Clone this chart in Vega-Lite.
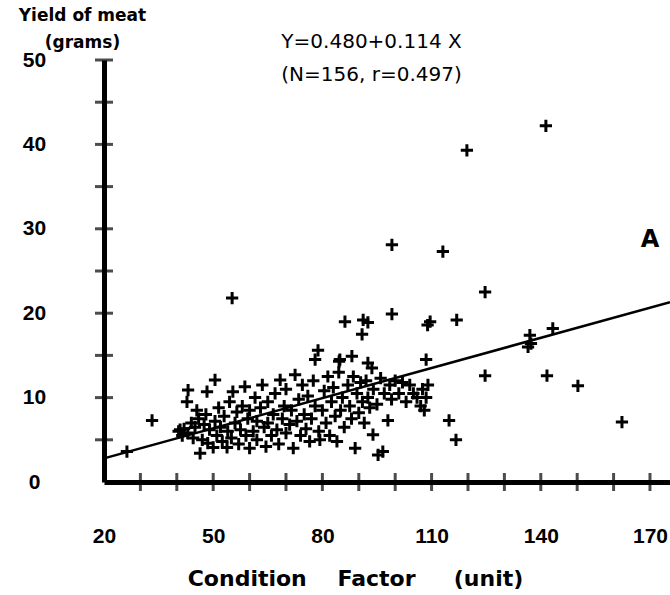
{
  "$schema": "https://vega.github.io/schema/vega-lite/v6.json",
  "width": 566,
  "height": 422,
  "autosize": {"type": "none"},
  "padding": {"left": 104, "top": 60, "right": 0, "bottom": 113},
  "background": "white",
  "config": {"view": {"stroke": null}, "font": "DejaVu Sans"},
  "datasets": {
    "pts": [
      {"x": 141.4, "y": 42.2}, {"x": 119.7, "y": 39.3}, {"x": 99.1, "y": 28.1}, {"x": 113.1, "y": 27.3},
      {"x": 124.7, "y": 22.5}, {"x": 55.2, "y": 21.8}, {"x": 99.1, "y": 19.9}, {"x": 109.6, "y": 19.0},
      {"x": 108.9, "y": 18.6}, {"x": 116.9, "y": 19.2}, {"x": 86.2, "y": 19.0}, {"x": 91.2, "y": 19.2},
      {"x": 92.5, "y": 18.9}, {"x": 90.9, "y": 17.5}, {"x": 137.0, "y": 17.4}, {"x": 143.3, "y": 18.2},
      {"x": 137.3, "y": 16.4}, {"x": 136.5, "y": 16.0}, {"x": 84.6, "y": 14.3}, {"x": 88.1, "y": 14.9},
      {"x": 92.5, "y": 14.1}, {"x": 93.6, "y": 13.5}, {"x": 108.5, "y": 14.5}, {"x": 124.7, "y": 12.6},
      {"x": 141.7, "y": 12.6}, {"x": 150.2, "y": 11.4}, {"x": 162.3, "y": 7.1}, {"x": 114.8, "y": 7.3},
      {"x": 116.7, "y": 5.0}, {"x": 98.0, "y": 7.3}, {"x": 89.0, "y": 4.0}, {"x": 33.2, "y": 7.3},
      {"x": 26.3, "y": 3.6}, {"x": 40.9, "y": 6.2},
      {"x": 40.5, "y": 6.0}, {"x": 41.5, "y": 5.5}, {"x": 42, "y": 6.3}, {"x": 43, "y": 5.8},
      {"x": 43.1, "y": 10.9}, {"x": 42.8, "y": 9.5}, {"x": 44, "y": 7.0}, {"x": 44.5, "y": 5.2},
      {"x": 45, "y": 6.5}, {"x": 45.5, "y": 8.5}, {"x": 46, "y": 7.5}, {"x": 46.4, "y": 3.4},
      {"x": 47, "y": 5.0}, {"x": 47.5, "y": 6.8}, {"x": 48, "y": 8.0}, {"x": 48.3, "y": 10.7},
      {"x": 48.5, "y": 4.6}, {"x": 49, "y": 6.2}, {"x": 50, "y": 4.1}, {"x": 50.5, "y": 12.1},
      {"x": 50.5, "y": 7.2}, {"x": 51, "y": 5.5}, {"x": 51.5, "y": 8.8}, {"x": 52, "y": 6.5},
      {"x": 52.5, "y": 4.8}, {"x": 53, "y": 7.8}, {"x": 53.8, "y": 4.1}, {"x": 54, "y": 6.0},
      {"x": 54.5, "y": 9.5}, {"x": 55.4, "y": 10.7}, {"x": 55, "y": 5.2},
      {"x": 56, "y": 7.0}, {"x": 56.5, "y": 8.3}, {"x": 57, "y": 4.5}, {"x": 57.5, "y": 6.2},
      {"x": 58, "y": 9.0}, {"x": 58.7, "y": 11.3}, {"x": 59, "y": 5.5}, {"x": 59.5, "y": 7.5},
      {"x": 60, "y": 4.0}, {"x": 60, "y": 8.5}, {"x": 61, "y": 6.0}, {"x": 61.5, "y": 10.0},
      {"x": 62, "y": 5.0}, {"x": 62, "y": 7.2}, {"x": 63, "y": 8.8}, {"x": 63.5, "y": 11.5},
      {"x": 64, "y": 6.5}, {"x": 64.5, "y": 4.2}, {"x": 65, "y": 9.5}, {"x": 65, "y": 7.0},
      {"x": 66, "y": 5.5}, {"x": 66.5, "y": 8.0}, {"x": 67, "y": 10.5}, {"x": 67.5, "y": 6.2},
      {"x": 68, "y": 4.5}, {"x": 68.4, "y": 12.1}, {"x": 69, "y": 7.5}, {"x": 69.5, "y": 9.0},
      {"x": 70, "y": 5.8}, {"x": 70, "y": 11.0},
      {"x": 71, "y": 6.8}, {"x": 71.5, "y": 8.5}, {"x": 72, "y": 4.0}, {"x": 72.5, "y": 12.7},
      {"x": 73, "y": 7.2}, {"x": 73.5, "y": 9.8}, {"x": 74, "y": 5.5}, {"x": 74.5, "y": 11.5},
      {"x": 75, "y": 8.0}, {"x": 75.5, "y": 6.3}, {"x": 76, "y": 10.2}, {"x": 76.5, "y": 4.8},
      {"x": 77, "y": 7.5}, {"x": 77.5, "y": 12.0}, {"x": 78, "y": 9.0}, {"x": 78, "y": 14.5},
      {"x": 78.8, "y": 15.6}, {"x": 79, "y": 6.0}, {"x": 79.3, "y": 5.0}, {"x": 80, "y": 8.5},
      {"x": 80.5, "y": 10.8}, {"x": 81, "y": 7.0}, {"x": 81.5, "y": 12.5}, {"x": 82, "y": 5.5},
      {"x": 82.5, "y": 9.5}, {"x": 83, "y": 11.2}, {"x": 83.5, "y": 7.8}, {"x": 84, "y": 4.8},
      {"x": 84.5, "y": 13.0}, {"x": 84.8, "y": 14.5}, {"x": 85, "y": 8.5},
      {"x": 85.5, "y": 10.0}, {"x": 86, "y": 6.5}, {"x": 87, "y": 11.5}, {"x": 87.5, "y": 9.0},
      {"x": 88, "y": 7.5}, {"x": 88.5, "y": 12.5}, {"x": 89.5, "y": 10.5}, {"x": 90, "y": 8.2},
      {"x": 90.5, "y": 11.8}, {"x": 91, "y": 9.5}, {"x": 91.5, "y": 7.0}, {"x": 92, "y": 12.0},
      {"x": 92.5, "y": 10.0}, {"x": 93, "y": 8.8}, {"x": 93.9, "y": 5.6}, {"x": 94, "y": 11.0},
      {"x": 95, "y": 9.2}, {"x": 95.3, "y": 3.2}, {"x": 96, "y": 12.3}, {"x": 96.6, "y": 3.6},
      {"x": 97, "y": 10.5}, {"x": 98.5, "y": 11.5}, {"x": 99, "y": 9.8}, {"x": 100, "y": 12.0},
      {"x": 101, "y": 10.5}, {"x": 102, "y": 11.8}, {"x": 103, "y": 9.5}, {"x": 104, "y": 11.5},
      {"x": 105, "y": 10.5}, {"x": 106, "y": 10.0}, {"x": 107, "y": 9.0}, {"x": 107.5, "y": 11.0},
      {"x": 108, "y": 8.5}, {"x": 108.5, "y": 10.0}, {"x": 109, "y": 11.5}
    ],
    "fit": [{"x": 20, "y": 2.8}, {"x": 175.5, "y": 21.3}],
    "xt": [{"x": 30}, {"x": 40}, {"x": 50}, {"x": 60}, {"x": 70}, {"x": 80}, {"x": 90}, {"x": 100}, {"x": 110}, {"x": 120}, {"x": 130}, {"x": 140}, {"x": 150}, {"x": 160}, {"x": 170}],
    "yt": [{"y": 5}, {"y": 10}, {"y": 15}, {"y": 20}, {"y": 25}, {"y": 30}, {"y": 35}, {"y": 40}, {"y": 45}, {"y": 50}],
    "one": [{}]
  },
  "layer": [
    {
      "data": {"name": "pts"},
      "mark": {"type": "point", "shape": "M-1,0H1M0,-1V1", "filled": false, "stroke": "black", "strokeWidth": 3, "size": 150, "opacity": 1},
      "encoding": {
        "x": {"field": "x", "type": "quantitative", "scale": {"domain": [20, 175.5], "nice": false, "zero": false},
          "axis": {"values": [20, 50, 80, 110, 140, 170], "ticks": false, "tickSize": 0, "grid": false,
            "labelPadding": 43, "labelFlush": false, "labelFont": "Liberation Sans", "labelFontSize": 21, "labelFontWeight": "bold", "labelColor": "black",
            "domainWidth": 5, "domainColor": "black",
            "title": "Condition\u00a0\u00a0\u00a0 Factor\u00a0\u00a0\u00a0\u00a0 (unit)", "titleFont": "DejaVu Sans", "titleFontSize": 22, "titleFontWeight": "bold", "titleColor": "black",
            "titleX": 251, "titleY": 96, "titleBaseline": "middle"}},
        "y": {"field": "y", "type": "quantitative", "scale": {"domain": [0, 50], "nice": false, "zero": true},
          "axis": {"values": [0, 10, 20, 30, 40, 50], "ticks": false, "tickSize": 0, "grid": false,
            "labelPadding": 70, "labelAlign": "center", "labelFlush": false, "labelFont": "Liberation Sans", "labelFontSize": 21, "labelFontWeight": "bold", "labelColor": "black",
            "domainWidth": 5, "domainColor": "black",
            "title": ["Yield of meat", "(grams)"], "titleAngle": 0, "titleAlign": "center", "titleBaseline": "top",
            "titleX": -22, "titleY": -53, "titleLineHeight": 27, "titleFontSize": 17, "titleFontWeight": "bold", "titleColor": "black"}}
      }
    },
    {
      "data": {"name": "fit"},
      "mark": {"type": "line", "color": "black", "strokeWidth": 2.5},
      "encoding": {"x": {"field": "x", "type": "quantitative"}, "y": {"field": "y", "type": "quantitative"}}
    },
    {
      "data": {"name": "xt"},
      "mark": {"type": "tick", "orient": "vertical", "color": "black", "size": 18, "thickness": 3},
      "encoding": {"x": {"field": "x", "type": "quantitative"}, "y": {"datum": 0}}
    },
    {
      "data": {"name": "yt"},
      "mark": {"type": "tick", "orient": "horizontal", "color": "black", "size": 18, "thickness": 3},
      "encoding": {"y": {"field": "y", "type": "quantitative"}, "x": {"datum": 20}}
    },
    {
      "data": {"name": "one"},
      "mark": {"type": "text", "text": "A", "font": "DejaVu Sans", "fontSize": 24, "fontWeight": "bold", "color": "black"},
      "encoding": {"x": {"datum": 170}, "y": {"datum": 28.7}}
    },
    {
      "data": {"name": "one"},
      "mark": {"type": "text", "text": ["Y=0.480+0.114 X", "(N=156, r=0.497)"], "font": "DejaVu Sans", "fontSize": 20, "lineHeight": 33, "baseline": "top", "align": "center", "color": "black"},
      "encoding": {"x": {"datum": 93.5}, "y": {"datum": 53.3}}
    }
  ]
}
